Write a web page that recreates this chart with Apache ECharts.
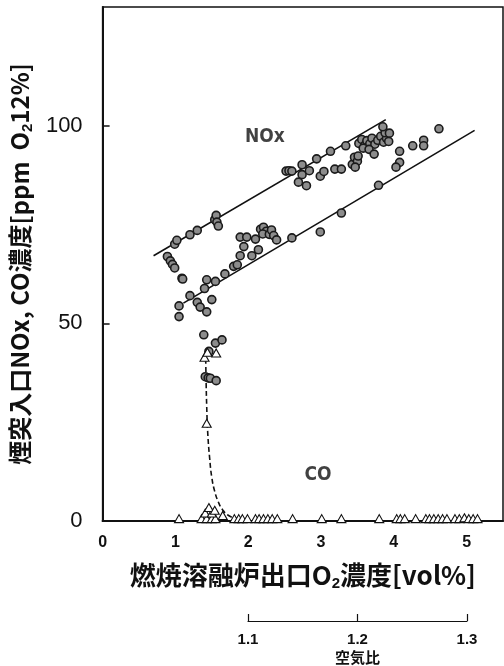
<!DOCTYPE html>
<html><head><meta charset="utf-8">
<script src="https://cdn.jsdelivr.net/npm/echarts@6/dist/echarts.min.js"></script>
<style>html,body{margin:0;padding:0;background:#fff}#c{width:504px;height:666px}</style>
</head><body><div id="c"></div>
<script>
// NOx data points [O2 vol%, ppm]
const noxPoints = [
  [0.89,66.9],[0.93,65.8],[0.96,64.9],[0.99,64.0],[1.09,61.4],[0.99,70.0],[1.02,71.0],
  [1.20,72.4],[1.30,73.5],[1.54,76.2],[1.56,77.3],[1.57,75.6],[1.59,74.6],
  [1.05,54.4],[1.05,51.7],[1.10,61.2],[1.20,57.0],[1.30,55.3],[1.34,54.1],[1.43,52.9],
  [1.50,56.0],[1.40,58.8],[1.43,61.0],[1.55,60.6],[1.68,62.5],[1.80,64.4],[1.85,64.8],
  [1.89,67.1],[2.05,67.1],[2.14,68.6],[1.94,69.4],[1.89,71.8],[1.98,71.8],[2.10,71.3],
  [2.17,73.8],[2.21,74.3],[2.25,73.3],[2.20,72.6],[2.29,72.5],[2.32,73.6],[2.35,72.2],[2.39,71.1],
  [2.60,71.6],[2.99,73.1],[3.28,77.9],[3.79,84.9],
  [1.39,47.1],[1.55,45.0],[1.64,45.8],[1.46,42.9],[1.41,36.5],[1.45,36.2],[1.48,36.1],[1.56,35.5],
  [2.52,88.5],[2.56,88.6],[2.60,88.5],[2.74,90.1],[2.74,87.6],[2.84,88.6],[2.69,85.7],[2.80,84.8],
  [2.94,91.6],[2.99,87.2],[3.04,88.4],[3.13,93.5],[3.19,89.0],[3.28,89.0],[3.34,94.9],
  [3.43,90.2],[3.46,92.0],[3.50,91.0],[3.47,89.5],[3.51,92.3],
  [3.52,95.5],[3.56,96.5],[3.60,95.0],[3.63,96.2],[3.67,95.4],[3.70,96.8],[3.74,95.3],[3.78,96.3],
  [3.82,97.3],[3.86,95.8],[3.90,96.8],[3.93,96.0],[3.88,98.2],[3.58,94.3],[3.66,94.0],
  [3.73,92.8],[3.85,99.7],[3.94,98.1],
  [4.08,93.5],[4.26,94.9],[4.41,96.3],[4.41,94.9],[4.62,99.2],[4.08,90.7],[4.03,89.5]
];
// CO data points
const coPoints = [
  [1.05,0.6],[1.36,0.6],[1.43,0.6],[1.50,0.6],[1.55,0.6],[1.41,2.0],[1.50,2.0],[1.46,3.4],[1.54,2.7],[1.65,1.4],
  [1.81,0.6],[1.87,0.6],[1.92,0.6],[1.99,0.6],[2.10,0.6],[2.15,0.6],[2.21,0.6],[2.27,0.6],[2.33,0.6],[2.40,0.6],
  [2.61,0.6],[3.01,0.6],[3.28,0.6],[3.80,0.6],[4.04,0.6],[4.09,0.6],[4.15,0.6],[4.30,0.6],[4.44,0.6],[4.49,0.6],
  [4.55,0.6],[4.61,0.6],[4.67,0.6],[4.73,0.6],[4.84,0.6],[4.90,0.6],[4.97,0.8],[5.03,0.6],[5.09,0.6],[5.15,0.6],
  [1.40,41.4],[1.44,42.7],[1.56,42.5],[1.43,24.7]
];
// Envelope lines for NOx
const noxUpperLine = [[0.70,67.1],[3.89,101.5]];
const noxLowerLine = [[1.11,55.1],[5.11,98.8]];
// CO trend curve (dashed)
const coCurve = [[1.415,43],[1.42,37],[1.43,29],[1.445,22],[1.47,16],[1.50,11],[1.54,7.5],[1.59,4.8],[1.65,2.8],[1.73,1.4],[1.85,0.6],[1.98,0.3]];
// tick labels
const xTicks = [0,1,2,3,4,5];
const yTicks = [0,50,100];
const airRatioTicks = [1.1,1.2,1.3];
// annotations
const annotations = [[2.23,97,'NOx'],[2.96,11.6,'CO']];

const chart = echarts.init(document.getElementById('c'), null, {renderer:'canvas'});
const cjk = "'Noto Sans CJK JP', 'Noto Sans', sans-serif";
const lat = "'Liberation Sans', Arial, sans-serif";
chart.setOption({
  animation:false,
  backgroundColor:'#fff',
  grid:[
    {left:102, top:7, width:401, height:514, show:true, borderColor:'#111', borderWidth:1.5, backgroundColor:'transparent'},
    {left:248, top:620, width:219, height:1, show:false}
  ],
  xAxis:[
    {type:'value', gridIndex:0, min:0, max:5.5, interval:1,
     axisLine:{show:true, onZero:false, lineStyle:{color:'#111', width:2}},
     axisTick:{show:false}, splitLine:{show:false},
     axisLabel:{customValues:xTicks, color:'#111', fontSize:16, fontWeight:'bold', fontFamily:lat, margin:14},
     name:'{a|燃焼溶融炉出口O}{s|2}{a|濃度[vol%]}', nameLocation:'middle', nameGap:38,
     nameTextStyle:{rich:{
       a:{fontSize:26, fontFamily:cjk, fontWeight:'bold', color:'#111', lineHeight:32},
       s:{fontSize:15, fontFamily:lat, fontWeight:'bold', color:'#111', lineHeight:15, verticalAlign:'bottom'}
     }}
    },
    {type:'value', gridIndex:1, min:1.1, max:1.3, interval:0.1, position:'bottom',
     axisLine:{show:true, onZero:false, lineStyle:{color:'#111', width:1.2}},
     axisTick:{show:true, inside:true, length:7, lineStyle:{color:'#111', width:1.2}, customValues:airRatioTicks},
     splitLine:{show:false},
     axisLabel:{customValues:airRatioTicks, formatter:v=>v.toFixed(1), color:'#111', fontSize:15, fontWeight:'bold', fontFamily:lat, margin:11},
     name:'空気比', nameLocation:'middle', nameGap:29,
     nameTextStyle:{fontSize:15, fontFamily:cjk, fontWeight:'bold', color:'#111'}
    }
  ],
  yAxis:[
    {type:'value', gridIndex:0, min:0, max:130, interval:50,
     axisLine:{show:true, onZero:false, lineStyle:{color:'#111', width:2}},
     axisTick:{show:true, inside:true, length:7, lineStyle:{color:'#111', width:1.5}, customValues:[50,100]},
     splitLine:{show:false},
     axisLabel:{customValues:yTicks, color:'#111', fontSize:22, fontFamily:lat, margin:20},
     name:'{a|煙突入口NOx, CO濃度[ppm  O}{s|2}{a|12%]}', nameLocation:'middle', nameGap:56,
     nameTextStyle:{rich:{
       a:{fontSize:24, fontFamily:cjk, fontWeight:'bold', color:'#111', lineHeight:30},
       s:{fontSize:15, fontFamily:lat, fontWeight:'bold', color:'#111', lineHeight:15, verticalAlign:'bottom'}
     }}
    },
    {type:'value', gridIndex:1, show:false, min:0, max:1}
  ],
  series:[
    {type:'line', data:noxUpperLine, symbol:'none', lineStyle:{color:'#111', width:1.6}, silent:true, z:2},
    {type:'line', data:noxLowerLine, symbol:'none', lineStyle:{color:'#111', width:1.6}, silent:true, z:2},
    {type:'line', data:coCurve, symbol:'none', smooth:true, lineStyle:{color:'#111', width:1.6, type:[5,3]}, silent:true, z:2},
    {type:'scatter', data:noxPoints, symbol:'circle', symbolSize:8,
     itemStyle:{color:'#8c8c8c', borderColor:'#1a1a1a', borderWidth:1.6, opacity:1}, z:3},
    {type:'scatter', data:coPoints, symbol:'triangle', symbolSize:[9,8],
     itemStyle:{color:'#fff', borderColor:'#111', borderWidth:1.1, opacity:1}, z:4},
    {type:'scatter', data:annotations, symbolSize:0, silent:true, z:5,
     label:{show:true, position:'inside', formatter:p=>p.data[2], color:'#111', fontSize:19, fontWeight:'bold',
            fontFamily:"'DejaVu Sans Condensed', 'Liberation Sans Narrow', sans-serif"}}
  ]
});
</script>
</body></html>
